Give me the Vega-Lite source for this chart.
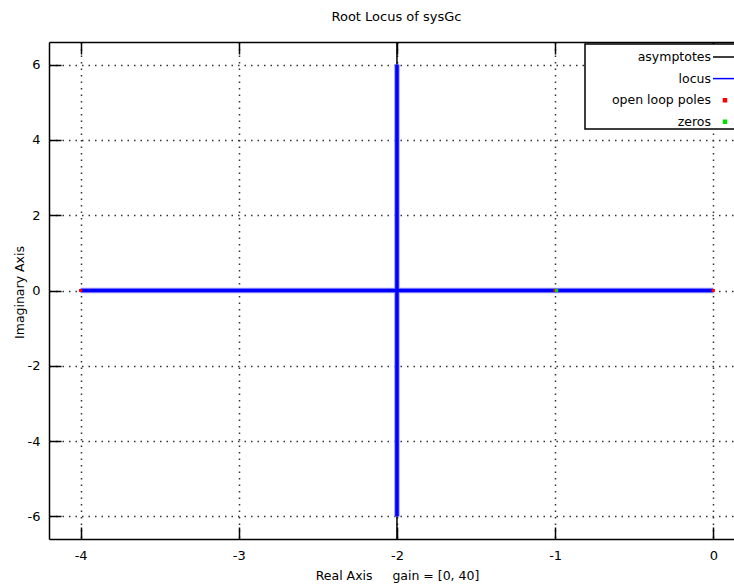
{
  "$schema": "https://vega.github.io/schema/vega-lite/v6.json",
  "width": 685,
  "height": 497,
  "autosize": {"type": "none"},
  "padding": {"left": 49, "top": 42, "right": 0, "bottom": 46},
  "background": "white",
  "title": {
    "text": "Root Locus of sysGc",
    "font": "DejaVu Sans",
    "fontSize": 13,
    "fontWeight": "normal",
    "color": "#000",
    "anchor": "middle",
    "frame": "group",
    "baseline": "bottom",
    "offset": 2,
    "dx": 5
  },
  "config": {
    "view": {"stroke": null},
    "axis": {
      "labelFont": "DejaVu Sans",
      "labelFontSize": 13,
      "labelColor": "#000",
      "titleFont": "DejaVu Sans",
      "titleFontSize": 12.5,
      "titleFontWeight": "normal",
      "titleColor": "#000",
      "tickColor": "#000",
      "tickWidth": 1.5,
      "tickSize": -12,
      "domain": true,
      "domainColor": "#000",
      "domainWidth": 1.5,
      "gridColor": "#333",
      "gridDash": [1.5, 5],
      "gridWidth": 1.5,
      "gridOpacity": 1
    }
  },
  "datasets": {
    "paths": [
      {"series": "asymptotes", "branch": "a1", "ord": 0, "re": -2, "im": -6.6},
      {"series": "asymptotes", "branch": "a1", "ord": 1, "re": -2, "im": 6.6},
      {"series": "locus", "branch": "b1", "ord": 0, "re": -4, "im": 0},
      {"series": "locus", "branch": "b1", "ord": 1, "re": -2, "im": 0},
      {"series": "locus", "branch": "b2", "ord": 0, "re": 0, "im": 0},
      {"series": "locus", "branch": "b2", "ord": 1, "re": -2, "im": 0},
      {"series": "locus", "branch": "b3", "ord": 0, "re": -2, "im": 0},
      {"series": "locus", "branch": "b3", "ord": 1, "re": -2, "im": 6},
      {"series": "locus", "branch": "b4", "ord": 0, "re": -2, "im": 0},
      {"series": "locus", "branch": "b4", "ord": 1, "re": -2, "im": -6}
    ],
    "roots": [
      {"series": "open loop poles", "re": -4, "im": 0},
      {"series": "open loop poles", "re": -1, "im": 0},
      {"series": "open loop poles", "re": 0, "im": 0},
      {"series": "zeros", "re": -1, "im": 0}
    ]
  },
  "layer": [
    {
      "data": {"name": "paths"},
      "transform": [{"filter": "datum.series === 'asymptotes'"}],
      "mark": {"type": "line", "strokeWidth": 1.5},
      "encoding": {
        "x": {
          "field": "re",
          "type": "quantitative",
          "scale": {"domain": [-4.2, 0.131], "nice": false, "zero": false},
          "axis": {
            "orient": "bottom",
            "values": [-4, -3, -2, -1, 0],
            "grid": true,
            "labelPadding": 22,
            "labelExpr": "datum.value < 0 ? '-' + abs(datum.value) : '' + datum.value",
            "title": "Real Axis\u00a0\u00a0\u00a0\u00a0 gain = [0, 40]",
            "titleX": 348,
            "titleY": 36,
            "titleBaseline": "middle"
          }
        },
        "y": {
          "field": "im",
          "type": "quantitative",
          "scale": {"domain": [-6.6, 6.6], "nice": false, "zero": false},
          "axis": {
            "orient": "left",
            "values": [-6, -4, -2, 0, 2, 4, 6],
            "grid": true,
            "labelPadding": 21,
            "labelExpr": "datum.value < 0 ? '-' + abs(datum.value) : '' + datum.value",
            "title": "Imaginary Axis",
            "titleAngle": -90,
            "titleX": -30,
            "titleY": 250,
            "titleBaseline": "middle"
          }
        },
        "detail": {"field": "branch"},
        "order": {"field": "ord"},
        "color": {
          "field": "series",
          "type": "nominal",
          "scale": {
            "domain": ["asymptotes", "locus", "open loop poles", "zeros"],
            "range": ["#000000", "#0000ff", "#ff0000", "#00dd00"]
          },
          "legend": {
            "orient": "none",
            "legendX": 536,
            "legendY": 2,
            "title": null,
            "fillColor": "#ffffff",
            "strokeColor": "#000000",
            "padding": 0,
            "rowPadding": 1.6,
            "labelFont": "DejaVu Sans",
            "labelFontSize": 12.5,
            "labelColor": "#000",
            "labelAlign": "right",
            "labelOffset": -27,
            "symbolOffset": 127,
            "symbolType": "stroke",
            "symbolSize": 576,
            "symbolStrokeWidth": 1.5,
            "symbolOpacity": 1,
            "encode": {
              "legend": {"update": {"strokeWidth": {"value": 1.5}}},
              "symbols": {
                "update": {
                  "shape": {"signal": "indexof(['open loop poles', 'zeros'], datum.value) >= 0 ? 'square' : 'stroke'"},
                  "size": {"signal": "indexof(['open loop poles', 'zeros'], datum.value) >= 0 ? 9 : 576"},
                  "fill": {"scale": "color", "field": "value"},
                  "stroke": {"scale": "color", "field": "value"}
                }
              }
            }
          }
        }
      }
    },
    {
      "data": {"name": "paths"},
      "transform": [{"filter": "datum.series === 'locus'"}],
      "mark": {"type": "line", "strokeWidth": 5.5, "color": "#9a9aff", "strokeCap": "butt"},
      "encoding": {
        "x": {
          "field": "re",
          "type": "quantitative",
          "axis": {
            "orient": "top",
            "values": [-4, -3, -2, -1, 0],
            "labels": false,
            "grid": false,
            "title": null
          }
        },
        "y": {"field": "im", "type": "quantitative", "axis": null},
        "detail": {"field": "branch"},
        "order": {"field": "ord"}
      }
    },
    {
      "data": {"name": "paths"},
      "transform": [{"filter": "datum.series === 'locus'"}],
      "mark": {"type": "line", "strokeWidth": 3.5, "color": "#0000ff", "strokeCap": "butt"},
      "encoding": {
        "x": {"field": "re", "type": "quantitative", "axis": null},
        "y": {"field": "im", "type": "quantitative", "axis": null},
        "detail": {"field": "branch"},
        "order": {"field": "ord"}
      }
    },
    {
      "data": {"name": "roots"},
      "transform": [{"filter": "datum.series === 'open loop poles'"}],
      "mark": {"type": "square", "size": 10, "filled": true, "color": "#ff0000", "opacity": 1},
      "encoding": {
        "x": {"field": "re", "type": "quantitative", "axis": null},
        "y": {"field": "im", "type": "quantitative", "axis": null}
      }
    },
    {
      "data": {"name": "roots"},
      "transform": [{"filter": "datum.series === 'zeros'"}],
      "mark": {"type": "square", "size": 10, "filled": true, "color": "#00dd00", "opacity": 1, "xOffset": 1.5},
      "encoding": {
        "x": {"field": "re", "type": "quantitative", "axis": null},
        "y": {"field": "im", "type": "quantitative", "axis": null}
      }
    }
  ],
  "resolve": {"axis": {"x": "independent", "y": "independent"}}
}
